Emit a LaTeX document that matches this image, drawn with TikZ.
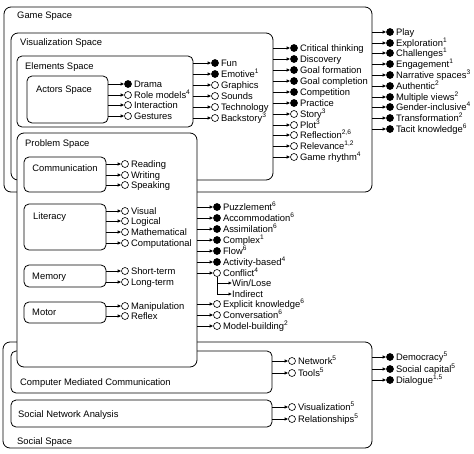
\documentclass[tikz,border=0pt]{standalone}
\usepackage{fontspec}
\setmainfont{Liberation Sans}
\usetikzlibrary{arrows.meta}
\tikzset{
 box/.style={draw, line width=0.8pt, rounded corners=7pt, inner sep=0pt, outer sep=0pt, anchor=north west},
 sbox/.style={box, rounded corners=5pt},
 lbl/.style={font=\fontsize{9.4}{10}\selectfont, inner sep=0pt, text height=7pt, text depth=1pt, anchor=west},
 fb/.style={circle, fill=black, draw=black, line width=0.6pt, minimum size=7pt, inner sep=0pt},
 ob/.style={circle, fill=white, draw=black, line width=0.6pt, minimum size=7pt, inner sep=0pt},
 arr/.style={line width=0.7pt, -{Latex[length=3.5pt,width=3.5pt]}},
}
\newcommand\itm[6]{%
  \node[#3] (#2) at (#4,#5) {};
  \node[lbl] (#2t) at ([xshift=2pt]#2.east) {#6};
  \draw[arr] (#1.east |- #2) -- (#2);
}
\newcommand\sps[1]{\textsuperscript{#1}}
\begin{document}
\begin{tikzpicture}[x=1pt,y=-1pt]
\useasboundingbox (0,0) rectangle (474,453);
% Game space
\node[box, minimum width=368pt, minimum height=185pt] (game) at (4,7) {};
\node[lbl] (gameL) at (17,15) {Game Space};
\node[box, minimum width=262pt, minimum height=147pt] (vis) at (11,33) {};
\node[lbl] (visL) at (20,42) {Visualization Space};
\node[sbox, minimum width=176pt, minimum height=71pt] (elem) at (17,56) {};
\node[lbl] (elemL) at (25,66) {Elements Space};
\node[sbox, minimum width=81pt, minimum height=47pt] (act) at (27,76) {};
\node[lbl, anchor=center] (actL) at (64,89) {Actors Space};
% Social space
\node[box, minimum width=369pt, minimum height=106pt] (soc) at (3,342) {};
\node[lbl] (socL) at (17,441) {Social Space};
\node[sbox, minimum width=261pt, minimum height=42pt] (cmc) at (11,351) {};
\node[lbl] (cmcL) at (20,382) {Computer Mediated Communication};
\node[sbox, minimum width=261pt, minimum height=27pt] (sna) at (11,400) {};
\node[lbl] (snaL) at (18,414) {Social Network Analysis};
% Problem space
\node[box, fill=white, minimum width=180pt, minimum height=234pt] (prob) at (17,133) {};
\node[lbl] (probL) at (25,143) {Problem Space};
\node[sbox, minimum width=82pt, minimum height=35pt] (comm) at (24,157) {};
\node[lbl, anchor=center] (commL) at (65,168) {Communication};
\node[sbox, minimum width=82pt, minimum height=46pt] (lit) at (24,204) {};
\node[lbl] (litL) at (33,216) {Literacy};
\node[sbox, minimum width=82pt, minimum height=22pt] (mem) at (24,265) {};
\node[lbl] (memL) at (32,276) {Memory};
\node[sbox, minimum width=82pt, minimum height=21pt] (mot) at (24,302) {};
\node[lbl] (motL) at (32,312) {Motor};
% Actors items
\itm{act}{dr}{fb}{128}{84}{Drama}
\itm{act}{rm}{ob}{128}{95}{Role models\sps{4}}
\itm{act}{ia}{ob}{128}{105}{Interaction}
\itm{act}{gs}{ob}{128}{116}{Gestures}
% Elements items
\itm{elem}{fu}{fb}{215}{63}{Fun}
\itm{elem}{em}{fb}{215}{74}{Emotive\sps{1}}
\itm{elem}{gr}{ob}{215}{85}{Graphics}
\itm{elem}{so}{ob}{215}{96}{Sounds}
\itm{elem}{te}{ob}{215}{107}{Technology}
\itm{elem}{bs}{ob}{215}{118}{Backstory\sps{3}}
% Visualization items
\itm{vis}{ct}{fb}{294}{48}{Critical thinking}
\itm{vis}{di}{fb}{294}{59}{Discovery}
\itm{vis}{gf}{fb}{294}{70}{Goal formation}
\itm{vis}{gc}{fb}{294}{81}{Goal completion}
\itm{vis}{cp}{fb}{294}{92}{Competition}
\itm{vis}{pr}{fb}{294}{103}{Practice}
\itm{vis}{st}{ob}{294}{114}{Story\sps{3}}
\itm{vis}{pl}{ob}{294}{125}{Plot\sps{3}}
\itm{vis}{rf}{ob}{294}{135}{Reflection\sps{2,6}}
\itm{vis}{rv}{ob}{294}{146}{Relevance\sps{1,2}}
\itm{vis}{gy}{ob}{294}{157}{Game rhythm\sps{4}}
% Game items
\itm{game}{py}{fb}{390}{32}{Play}
\itm{game}{ex}{fb}{390}{43}{Exploration\sps{1}}
\itm{game}{ch}{fb}{390}{53}{Challenges\sps{1}}
\itm{game}{en}{fb}{390}{64}{Engagement\sps{1}}
\itm{game}{ns}{fb}{390}{75}{Narrative spaces\sps{3}}
\itm{game}{au}{fb}{390}{86}{Authentic\sps{2}}
\itm{game}{mv}{fb}{390}{97}{Multiple views\sps{2}}
\itm{game}{gi}{fb}{390}{107}{Gender-inclusive\sps{4}}
\itm{game}{tf}{fb}{390}{118}{Transformation\sps{2}}
\itm{game}{tk}{fb}{390}{129}{Tacit knowledge\sps{6}}
% Communication
\itm{comm}{rd}{ob}{125}{164}{Reading}
\itm{comm}{wr}{ob}{125}{175}{Writing}
\itm{comm}{sp}{ob}{125}{185}{Speaking}
% Literacy
\itm{lit}{vi}{ob}{125}{211}{Visual}
\itm{lit}{lo}{ob}{125}{221}{Logical}
\itm{lit}{ma}{ob}{125}{232}{Mathematical}
\itm{lit}{co}{ob}{125}{243}{Computational}
% Memory
\itm{mem}{sh}{ob}{125}{271}{Short-term}
\itm{mem}{lg}{ob}{125}{282}{Long-term}
% Motor
\itm{mot}{mp}{ob}{125}{306}{Manipulation}
\itm{mot}{rx}{ob}{125}{316}{Reflex}
% Problem items
\itm{prob}{pz}{fb}{217}{207}{Puzzlement\sps{6}}
\itm{prob}{ac}{fb}{217}{218}{Accommodation\sps{6}}
\itm{prob}{as}{fb}{217}{229}{Assimilation\sps{6}}
\itm{prob}{cx}{fb}{217}{240}{Complex\sps{1}}
\itm{prob}{fl}{fb}{217}{251}{Flow\sps{6}}
\itm{prob}{ab}{fb}{217}{262}{Activity-based\sps{4}}
\itm{prob}{cf}{ob}{217}{273}{Conflict\sps{4}}
\node[lbl] (wl) at (232,283) {Win/Lose};
\node[lbl] (ind) at (232,294) {Indirect};
\draw[arr] (cf.south) |- (wl.west);
\draw[arr] (cf.south) |- (ind.west);
\itm{prob}{ek}{ob}{217}{304}{Explicit knowledge\sps{6}}
\itm{prob}{cv}{ob}{217}{315}{Conversation\sps{6}}
\itm{prob}{mb}{ob}{217}{326}{Model-building\sps{2}}
% CMC / SNA
\itm{cmc}{nw}{ob}{292}{361}{Network\sps{5}}
\itm{cmc}{tl}{ob}{292}{373}{Tools\sps{5}}
\itm{sna}{vz}{ob}{292}{407}{Visualization\sps{5}}
\itm{sna}{rl}{ob}{292}{419}{Relationships\sps{5}}
% Social
\itm{soc}{dm}{fb}{390}{357}{Democracy\sps{5}}
\itm{soc}{sc}{fb}{390}{369}{Social capital\sps{5}}
\itm{soc}{dl}{fb}{390}{380}{Dialogue\sps{1,5}}
\end{tikzpicture}
\end{document}
